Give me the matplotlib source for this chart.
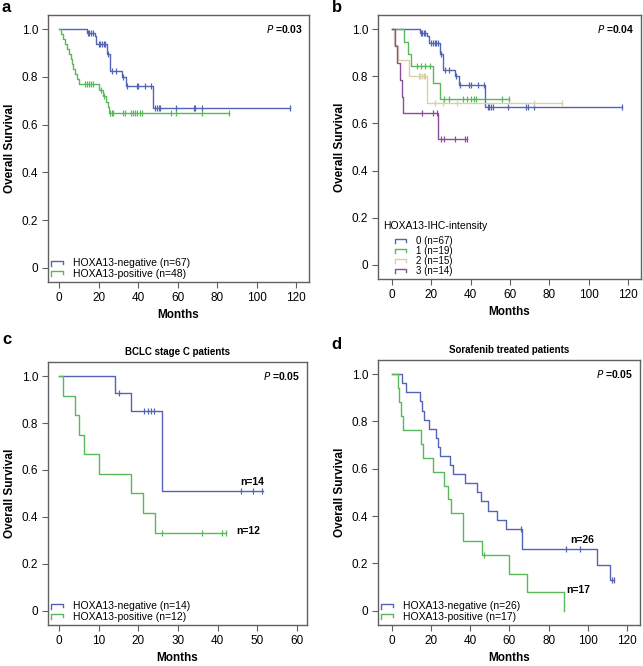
import numpy as np
import matplotlib
matplotlib.use("Agg")
import matplotlib.pyplot as plt
from matplotlib.lines import Line2D

plt.rcParams['font.family'] = ['Liberation Sans', 'DejaVu Sans']
plt.rcParams['font.size'] = 8

# ---- data ----
# panel a / b : HOXA13-negative (intensity 0), n=67
neg67_t = [14, 18, 18.6, 24.2, 26, 31.8, 33.9, 47.4]
neg67_s = [0.985, 0.970, 0.940, 0.896, 0.825, 0.800, 0.764, 0.670]
neg67_c = [14.5, 15.3, 16.2, 17, 20, 20.8, 21.6, 22.5, 23.3, 25, 27, 28.7, 32.6,
           34.4, 39.3, 40.2, 43.5, 46.8, 48.6, 49.5, 50.4, 51.3, 59.2, 68.3, 69, 72.2, 117]
neg67_end = 117

# panel a : HOXA13-positive, n=48
pos48_t = [1, 2, 3, 4, 5, 6, 6.5, 7, 8, 9, 10, 20, 22, 24, 24.6, 25.2]
pos48_s = [0.979, 0.958, 0.938, 0.917, 0.896, 0.875, 0.854, 0.833, 0.812, 0.792, 0.771,
           0.746, 0.722, 0.697, 0.672, 0.647]
pos48_c = [13, 14, 15, 16, 17, 21, 23, 25.8, 26.6, 27.4, 32.6, 33.2, 36.5, 37.5, 38.3,
           39.3, 41, 42, 56.5, 59.2, 72.2, 86]
pos48_end = 86

# panel b : intensity 1 (n=19), 2 (n=15), 3 (n=14)
int1_t = [5.9, 8, 9.7, 20.8, 24.6]
int1_s = [0.947, 0.895, 0.842, 0.772, 0.702]
int1_c = [12.7, 14.7, 16.9, 19.5, 26.3, 28.8, 36.1, 38.1, 40.2, 41.9, 42.9, 55.9, 59.3]
int1_end = 59.5

int2_t = [1.2, 2.9, 8.5, 17.8]
int2_s = [0.933, 0.867, 0.800, 0.686]
int2_c = [13.6, 14.4, 15.2, 16.1, 17, 22, 26, 33, 72, 86.5]
int2_end = 86.5

int3_t = [1.5, 2.7, 4.1, 4.9, 5.5, 23.6]
int3_s = [0.929, 0.857, 0.786, 0.714, 0.643, 0.536]
int3_c = [15, 21, 22.7, 25, 26.4, 32, 37.1, 37.9]
int3_end = 37.9

# panel c : BCLC stage C
cneg_t = [14.1, 18, 26]
cneg_s = [0.929, 0.851, 0.510]
cneg_c = [15.1, 21.5, 22.3, 23.1, 24, 45.8, 49, 51.1]
cneg_end = 51.5

cpos_t = [1.1, 4.1, 5.1, 6.2, 10.1, 18, 21.1, 24.1]
cpos_s = [0.917, 0.833, 0.750, 0.667, 0.583, 0.500, 0.417, 0.333]
cpos_c = [26, 36, 41, 42]
cpos_end = 42

# panel d : sorafenib treated
dneg_t = [5.1, 7.1, 14.4, 15.5, 16.7, 19, 22.6, 23.5, 24.4, 29.9, 31.3, 37.2, 43.3,
          45.6, 49.3, 53.7, 58.5, 66.3, 104.4, 111.2]
dneg_s = [0.962, 0.923, 0.885, 0.846, 0.808, 0.769, 0.731, 0.692, 0.654, 0.615, 0.577,
          0.538, 0.500, 0.462, 0.423, 0.385, 0.346, 0.260, 0.195, 0.130]
dneg_c = [65.8, 88.7, 96, 112, 113.4]
dneg_end = 113.5

dpos_t = [3.2, 3.9, 4.9, 5.9, 15.0, 15.8, 21.1, 26.9, 28.7, 30.1, 36.3, 46, 60, 68.8, 87.9]
dpos_s = [0.941, 0.882, 0.824, 0.765, 0.706, 0.647, 0.588, 0.529, 0.471, 0.412, 0.294,
          0.235, 0.157, 0.078, 0.0]
dpos_c = [47]
dpos_end = 87.9

blue = '#5464b4'
green = '#58b85a'
tan = '#d8d0a6'
purple = '#8d4c98'


def km(ax, t, s, cens, end, color):
    tt = np.r_[0, t, end]
    ss = np.r_[1.0, s, s[-1]]
    ax.step(tt, ss, where='post', color=color, lw=1.0)
    idx = np.searchsorted(np.asarray(t), np.asarray(cens), side='right')
    cy = np.r_[1.0, s][idx]
    ax.plot(cens, cy, ls='none', marker='|', ms=5, mew=0.9, color=color)


class StepHandler:
    def legend_artist(self, legend, orig_handle, fontsize, handlebox):
        x0, y0 = handlebox.xdescent, handlebox.ydescent
        w, h = handlebox.width, handlebox.height
        xs = [x0, x0, x0 + w * 0.75, x0 + w * 0.75]
        ys = [y0 + h * 0.1, y0 + h * 0.75, y0 + h * 0.75, y0 + h * 0.35]
        ln = Line2D(xs, ys, color=orig_handle.get_color(), lw=1.0,
                    transform=handlebox.get_transform())
        handlebox.add_artist(ln)
        return ln


def style(ax, xlim, xticks, ptxt, title=None):
    ax.set_xlim(*xlim)
    ax.set_ylim(-0.06, 1.06)
    ax.set_xticks(xticks)
    ax.set_yticks([0, 0.2, 0.4, 0.6, 0.8, 1.0])
    ax.set_yticklabels(['0', '0.2', '0.4', '0.6', '0.8', '1.0'])
    for sp in ax.spines.values():
        sp.set_color('#606060')
        sp.set_linewidth(1.0)
    ax.tick_params(direction='out', length=4, width=0.8, color='#606060',
                   labelsize=8.5, pad=3)
    ax.set_xlabel('Months', fontweight='bold', fontsize=8.5, labelpad=4)
    ax.set_ylabel('Overall Survival', fontweight='bold', fontsize=8.5, labelpad=4)
    ax.text(0.975, 1.0, r'$\bf{\it{P}}$ =' + ptxt, transform=ax.get_yaxis_transform(),
            ha='right', va='center', fontsize=7.5, fontweight='bold')
    if title:
        ax.set_title(title, fontsize=7, fontweight='bold', pad=5)


def two_legend(ax, colors, labels):
    h = [Line2D([], [], color=c) for c in colors]
    ax.legend(h, labels, handler_map={Line2D: StepHandler()}, loc='lower left',
              frameon=False, fontsize=7.5, handlelength=1.5, handletextpad=0.6,
              labelspacing=0.05, borderaxespad=0.1, borderpad=0.2)


fig = plt.figure(figsize=(6.43, 6.66), dpi=100)
ax_a = fig.add_axes([0.0747, 0.5766, 0.4059, 0.4009])
ax_b = fig.add_axes([0.588, 0.5810, 0.409, 0.3965])
ax_c = fig.add_axes([0.0747, 0.0616, 0.4027, 0.3949])
ax_d = fig.add_axes([0.588, 0.0616, 0.4073, 0.3979])

# panel letters
fig.text(0.003, 0.982, 'a', fontsize=12, fontweight='bold')
fig.text(0.516, 0.982, 'b', fontsize=12, fontweight='bold')
fig.text(0.003, 0.484, 'c', fontsize=12, fontweight='bold')
fig.text(0.516, 0.476, 'd', fontsize=12, fontweight='bold')

# a
km(ax_a, neg67_t, neg67_s, neg67_c, neg67_end, blue)
km(ax_a, pos48_t, pos48_s, pos48_c, pos48_end, green)
style(ax_a, (-5.6, 126.6), [0, 20, 40, 60, 80, 100, 120], '0.03')
two_legend(ax_a, [blue, green], ['HOXA13-negative (n=67)', 'HOXA13-positive (n=48)'])

# b
km(ax_b, neg67_t, neg67_s, neg67_c, neg67_end, blue)
km(ax_b, int1_t, int1_s, int1_c, int1_end, green)
km(ax_b, int2_t, int2_s, int2_c, int2_end, tan)
km(ax_b, int3_t, int3_s, int3_c, int3_end, purple)
style(ax_b, (-7.1, 126.6), [0, 20, 40, 60, 80, 100, 120], '0.04')
ax_b.text(0.02, 0.163, 'HOXA13-IHC-intensity', transform=ax_b.get_yaxis_transform(),
          fontsize=7.5, va='center', ha='left')
h = [Line2D([], [], color=c) for c in (blue, green, tan, purple)]
ax_b.legend(h, ['0 (n=67)', '1 (n=19)', '2 (n=15)', '3 (n=14)'],
            handler_map={Line2D: StepHandler()}, loc='lower left',
            bbox_to_anchor=(0.055, 0.0), frameon=False, fontsize=7,
            handlelength=1.5, handletextpad=0.6, labelspacing=0.0,
            borderaxespad=0.1, borderpad=0.2)

# c
km(ax_c, cneg_t, cneg_s, cneg_c, cneg_end, blue)
km(ax_c, cpos_t, cpos_s, cpos_c, cpos_end, green)
style(ax_c, (-2.8, 62.5), [0, 10, 20, 30, 40, 50, 60], '0.05',
      title='BCLC stage C patients')
ax_c.text(45.8, 0.55, 'n=14', fontsize=7.5, fontweight='bold', va='center')
ax_c.text(44.6, 0.339, 'n=12', fontsize=7.5, fontweight='bold', va='center')
two_legend(ax_c, [blue, green], ['HOXA13-negative (n=14)', 'HOXA13-positive (n=12)'])

# d
km(ax_d, dneg_t, dneg_s, dneg_c, dneg_end, blue)
km(ax_d, dpos_t, dpos_s, dpos_c, dpos_end, green)
style(ax_d, (-6.9, 126.5), [0, 20, 40, 60, 80, 100, 120], '0.05',
      title='Sorafenib treated patients')
ax_d.text(91, 0.30, 'n=26', fontsize=7.5, fontweight='bold', va='center')
ax_d.text(88.7, 0.088, 'n=17', fontsize=7.5, fontweight='bold', va='center')
two_legend(ax_d, [blue, green], ['HOXA13-negative (n=26)', 'HOXA13-positive (n=17)'])

fig.savefig('out.png', dpi=100)
